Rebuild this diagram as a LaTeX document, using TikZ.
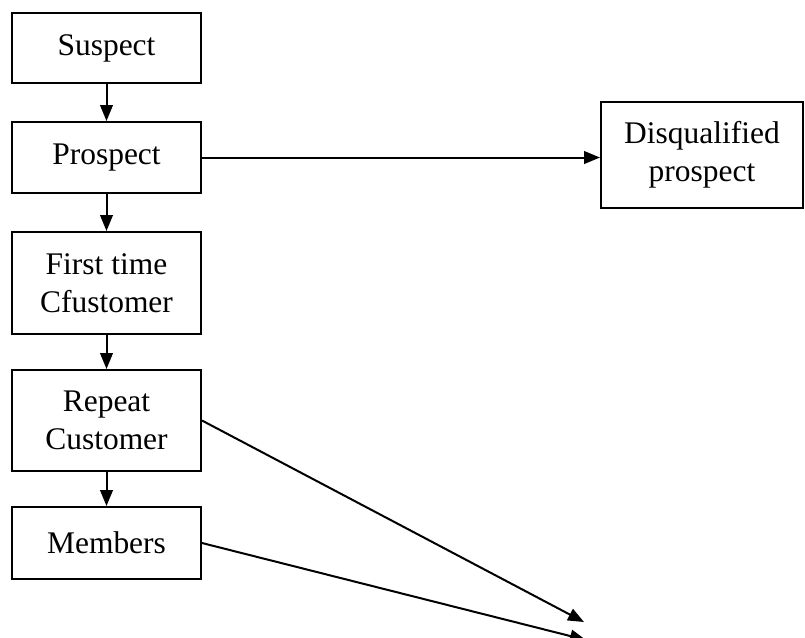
\documentclass[tikz,border=0pt]{standalone}
\usepackage{fontspec}
\setmainfont{Liberation Serif}
\usetikzlibrary{arrows.meta}
\tikzset{
  stage/.style={draw, line width=1.5pt, align=center, inner sep=0pt,
    font=\fontsize{23.6}{28.5}\selectfont},
  flow/.style={line width=1.5pt, -{Triangle[length=12pt,width=9.5pt]}}
}

\begin{document}
\begin{tikzpicture}[x=0.75pt, y=-0.75pt]
% frame
\useasboundingbox (0,0) rectangle (805,637);

% stages
\node[stage, minimum width=141.75pt, minimum height=52.5pt] (sus) at (106.5,48) {Suspect};
\node[stage, minimum width=141.75pt, minimum height=53.25pt] (pro) at (106.5,157.5) {Prospect};
\node[stage, minimum width=141.75pt, minimum height=76.5pt] (fir) at (106.5,283) {First time\\Cfustomer};
\node[stage, minimum width=141.75pt, minimum height=75.75pt] (rep) at (106.5,420.5) {Repeat\\Customer};
\node[stage, minimum width=141.75pt, minimum height=54pt] (mem) at (106.5,543) {Members};

% side box
\node[stage, minimum width=151.5pt, minimum height=79.5pt] (dis) at (702,155) {Disqualified\\prospect};

% free ends
\coordinate (end1) at (584,622);
\coordinate (end2) at (586,640);

% arrows
\draw[flow] (sus) -- (pro);
\draw[flow] (pro) -- (fir);
\draw[flow] (fir) -- (rep);
\draw[flow] (rep) -- (mem);
\draw[flow] (pro.east) -- (pro.east -| dis.west);
\draw[flow] (rep.east) -- (end1);
\draw[flow] (mem.east) -- (end2);

\end{tikzpicture}
\end{document}
